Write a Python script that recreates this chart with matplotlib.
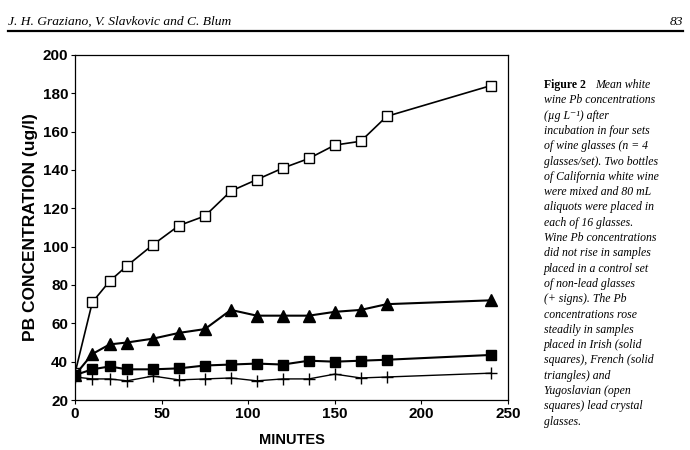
import matplotlib.pyplot as plt
import numpy as np

minutes = [0, 10, 20, 30, 45, 60, 75, 90, 105, 120, 135, 150, 165, 180, 240]
yugoslavian = [34, 71, 82, 90, 101, 111, 116, 129, 135, 141, 146, 153, 155, 168, 184]
french = [33, 44, 49, 50, 52, 55, 57, 67, 64, 64, 64, 66, 67, 70, 72]
irish = [33, 36, 37.5, 36, 36, 36.5, 38, 38.5, 39, 38.5, 40.5, 40, 40.5, 41, 43.5]
control = [32, 31, 31, 30, 32.5, 30.5, 31, 31.5, 30, 31, 31, 33.5, 31.5, 32, 34]

caption = [
    "wine Pb concentrations",
    "(\u00b5g L\u207b\u00b9) after",
    "incubation in four sets",
    "of wine glasses (n = 4",
    "glasses/set). Two bottles",
    "of California white wine",
    "were mixed and 80 mL",
    "aliquots were placed in",
    "each of 16 glasses.",
    "Wine Pb concentrations",
    "did not rise in samples",
    "placed in a control set",
    "of non-lead glasses",
    "(+ signs). The Pb",
    "concentrations rose",
    "steadily in samples",
    "placed in Irish (solid",
    "squares), French (solid",
    "triangles) and",
    "Yugoslavian (open",
    "squares) lead crystal",
    "glasses.",
]

sans = ["Liberation Sans", "DejaVu Sans"]
serif = ["Liberation Serif", "DejaVu Serif"]

fig = plt.figure(figsize=(6.9, 4.5), dpi=100)
ax = fig.add_axes([75/690, 1 - 400/450, (508 - 75)/690, (400 - 55)/450])

ax.plot(minutes, yugoslavian, color="black", lw=1.2, marker="s", ms=7,
        mfc="white", mec="black", mew=1.0)
ax.plot(minutes, french, color="black", lw=1.5, marker="^", ms=9,
        mfc="black", mec="black")
ax.plot(minutes, irish, color="black", lw=1.5, marker="s", ms=7.5,
        mfc="black", mec="black")
ax.plot(minutes, control, color="black", lw=1.0, marker="+", ms=8, mew=1.0)

ax.set_xlim(0, 250)
ax.set_ylim(20, 200)
ax.set_xticks(np.arange(0, 251, 50))
ax.set_yticks(np.arange(20, 201, 20))
ax.tick_params(direction="out", length=3, width=0.8, pad=2)
for lab in ax.get_xticklabels() + ax.get_yticklabels():
    lab.set_fontproperties(dict(family=sans, weight="bold", size=11))
for s in ax.spines.values():
    s.set_linewidth(0.9)

ax.set_xlabel("MINUTES", fontsize=10.5, family=sans, weight="bold")
ax.xaxis.set_label_coords(0.5, -33/345)
ax.set_ylabel("PB CONCENTRATION (ug/l)", fontsize=12.5, family=sans,
              weight="bold")
ax.yaxis.set_label_coords(-37/433, 0.5)

# page header
fig.text(8/690, 1 - 22/450, "J. H. Graziano, V. Slavkovic and C. Blum",
         family=serif, style="italic", fontsize=9.7, va="center")
fig.text(683/690, 1 - 22/450, "83", family=serif, style="italic",
         fontsize=9.7, va="center", ha="right")
fig.add_artist(plt.Line2D([8/690, 683/690], [1 - 31/450, 1 - 31/450],
                          color="black", lw=1.6))

# caption
x0 = 544/690
y0 = 1 - 85/450
step = 15.3/450
fig.text(x0, y0, "Figure 2", family=serif, weight="bold", fontsize=8.5,
         va="center")
fig.text(x0 + 51/690, y0, "Mean white", family=serif, style="italic",
         fontsize=8.5, va="center")
for i, line in enumerate(caption):
    fig.text(x0, y0 - (i + 1)*step, line, family=serif, style="italic",
             fontsize=8.5, va="center")

fig.savefig("out.png", dpi=100)
